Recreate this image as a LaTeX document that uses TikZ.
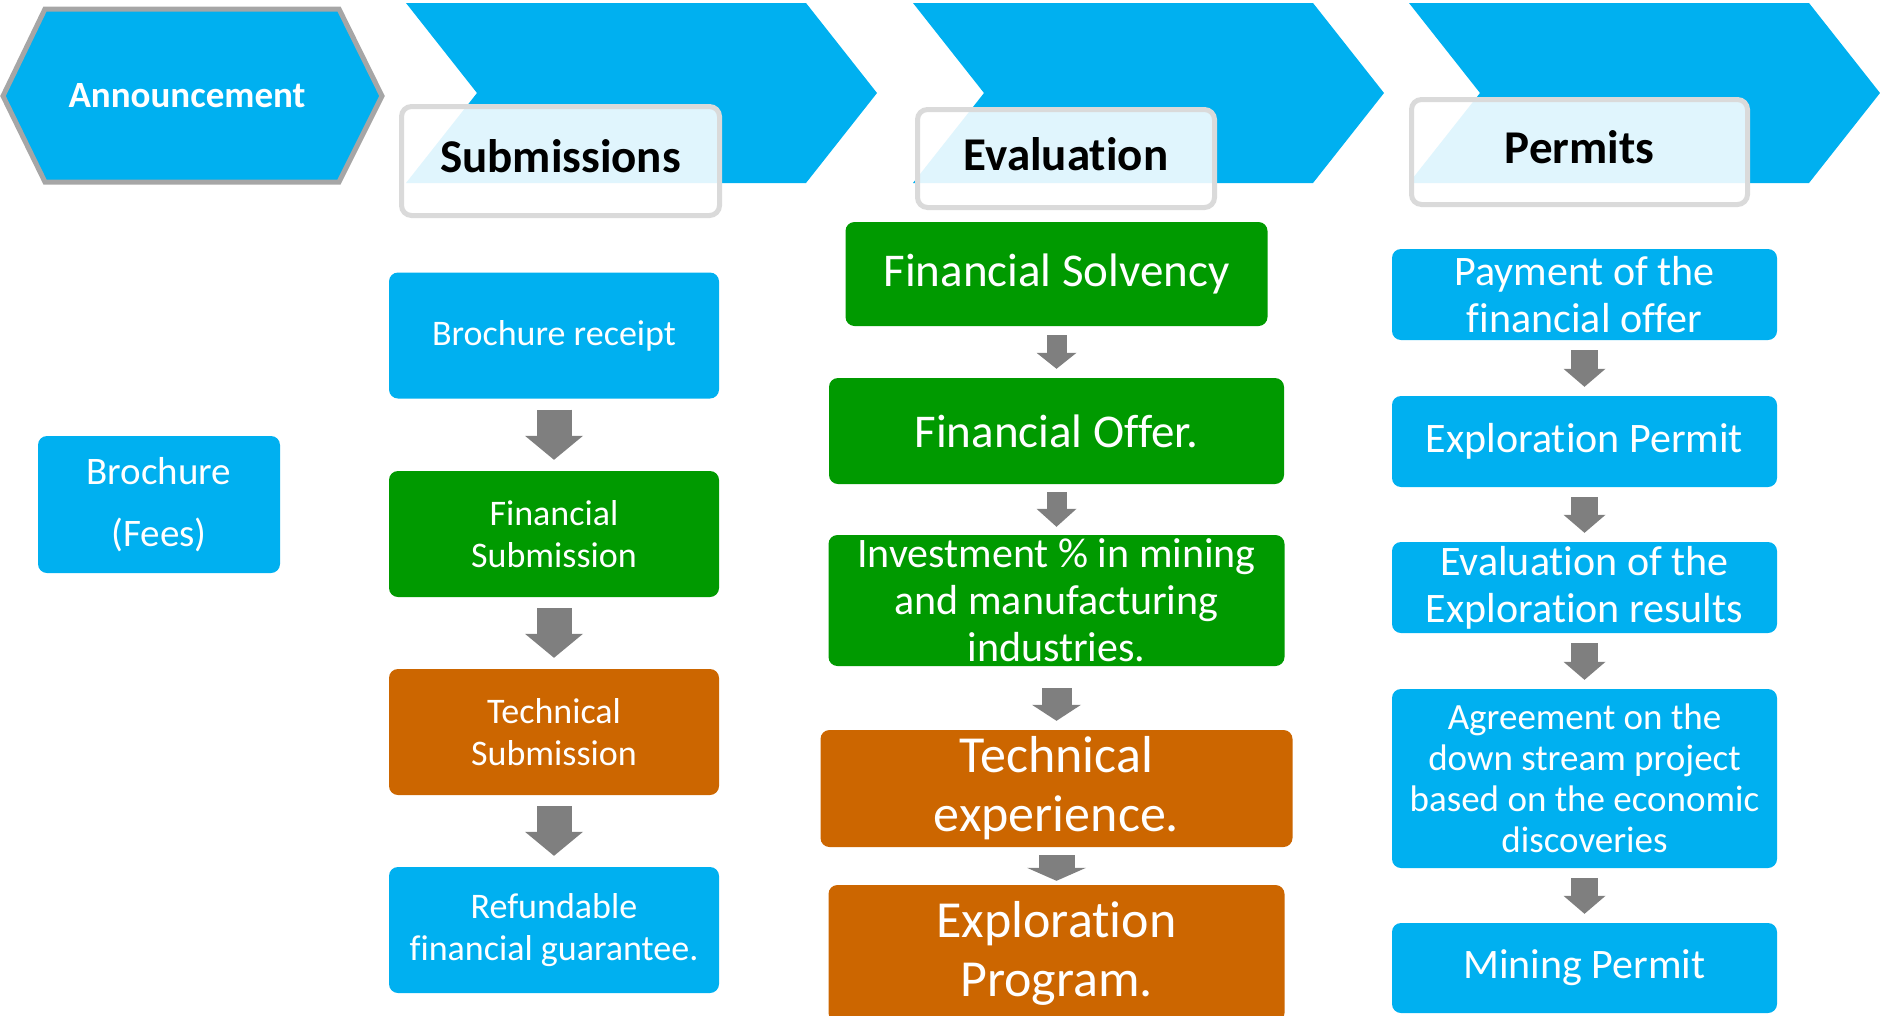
\documentclass[tikz,border=0pt]{standalone}
\usepackage{fontspec}
\setmainfont{Carlito}[Ligatures=CommonOff]
\usetikzlibrary{arrows.meta}

\definecolor{stageblue}{HTML}{00B0F0}
\definecolor{stagegreen}{HTML}{009A00}
\definecolor{stageorange}{HTML}{CC6600}
\definecolor{arrowgray}{HTML}{7F7F7F}
\definecolor{framegray}{HTML}{DADADA}
\definecolor{hexgray}{HTML}{A6A6A6}

\begin{document}
\begin{tikzpicture}[x=1pt,y=-1pt,
    box/.style={rectangle, rounded corners=9pt, inner sep=0pt, align=center, text=white},
    sub/.style={box, minimum width=330pt, minimum height=126pt, font=\fontsize{36}{42}\selectfont},
    permit/.style={box, fill=stageblue, minimum width=385pt, minimum height=91pt, font=\fontsize{42}{47}\selectfont},
    tag/.style={rectangle, rounded corners=10pt, draw=framegray, line width=5pt, fill=white,
      fill opacity=0.88, text opacity=1, text height=35pt, text depth=12pt,
      font=\bfseries\fontsize{47}{56}\selectfont},
    flow/.style n args={3}{draw=arrowgray, line width=#1, -{Triangle[width=#2, length=#3, line width=0pt]}}]
  \useasboundingbox (0,0) rectangle (1880,1015);

  % announcement hexagon and the three chevrons
  \draw[hexgray, line width=5pt, fill=stageblue] (3,96) -- (45,9) -- (339,9) -- (382,96) -- (339,182) -- (45,182) -- cycle;
  \node[text=white, font=\bfseries\fontsize{37}{44}\selectfont] (announce) at (187,96) {Announcement};
  \foreach \x in {406,913,1409}
    \fill[stageblue] (\x,3) -- (\x+400,3) -- (\x+471,93) -- (\x+400,183) -- (\x,183) -- (\x+71,93) -- cycle;

  \node[tag, minimum width=318pt, minimum height=109pt] (subhead) at (560.5,161) {Submissions};
  \node[tag, minimum width=297pt, minimum height=98pt] (evalhead) at (1066,158.5) {Evaluation};
  \node[tag, minimum width=336pt, minimum height=105pt] (permhead) at (1579.5,152) {Permits};

  \node[box, fill=stageblue, minimum width=242pt, minimum height=137pt, font=\fontsize{39}{62}\selectfont]
    (brochure) at (159,504.5) {Brochure\\(Fees)};

  % submissions
  \node[sub, fill=stageblue] (receipt) at (554,335.5) {Brochure receipt};
  \node[sub, fill=stagegreen] (finsub) at (554,534) {Financial\\Submission};
  \node[sub, fill=stageorange] (techsub) at (554,732) {Technical\\Submission};
  \node[sub, fill=stageblue] (refund) at (554,930) {Refundable\\financial guarantee.};
  \foreach \a/\b in {receipt/finsub, finsub/techsub, techsub/refund}
    \draw[flow={35pt}{58pt}{24pt}, shorten <=11pt, shorten >=11pt] (\a) -- (\b);

  % evaluation
  \node[box, fill=stagegreen, minimum width=422pt, minimum height=104pt, font=\fontsize{47}{56}\selectfont]
    (solvency) at (1056.5,274) {Financial Solvency};
  \node[box, fill=stagegreen, minimum width=455pt, minimum height=106pt, font=\fontsize{47}{56}\selectfont]
    (offer) at (1056.5,431) {Financial Offer.};
  \node[box, fill=stagegreen, minimum width=456pt, minimum height=131pt, font=\fontsize{42}{47}\selectfont]
    (invest) at (1056.5,600.5) {Investment \% in mining\\and manufacturing\\industries.};
  \node[box, fill=stageorange, minimum width=472pt, minimum height=117pt, font=\fontsize{52}{59}\selectfont]
    (techexp) at (1056.5,788.5) {Technical\\experience.};
  \node[box, fill=stageorange, minimum width=456pt, minimum height=137pt, font=\fontsize{52}{59}\selectfont]
    (program) at (1056.5,953.5) {Exploration\\Program.};
  \draw[flow={20pt}{40pt}{16pt}, shorten <=9pt, shorten >=9pt] (solvency) -- (offer);
  \draw[flow={20pt}{40pt}{18pt}, shorten <=8pt, shorten >=8pt] (offer) -- (invest);
  \draw[flow={30pt}{49pt}{16pt}, shorten <=22pt, shorten >=9pt] (invest) -- (techexp);
  \draw[flow={36pt}{59pt}{13pt}, shorten <=8pt, shorten >=4pt] (techexp) -- (program);

  % permits
  \node[permit] (payment) at (1584.5,294.5) {Payment of the\\financial offer};
  \node[permit] (explpermit) at (1584.5,441.5) {Exploration Permit};
  \node[permit] (results) at (1584.5,587.5) {Evaluation of the\\Exploration results};
  \node[permit, minimum height=179pt, font=\fontsize{37}{41}\selectfont]
    (agreement) at (1584.5,778.5) {Agreement on the\\down stream project\\based on the economic\\discoveries};
  \node[permit, minimum height=90pt] (mining) at (1584.5,968) {Mining Permit};
  \foreach \a/\b in {payment/explpermit, explpermit/results, results/agreement, agreement/mining}
    \draw[flow={27pt}{42pt}{18pt}, shorten <=10pt, shorten >=9pt] (\a) -- (\b);
\end{tikzpicture}
\end{document}
